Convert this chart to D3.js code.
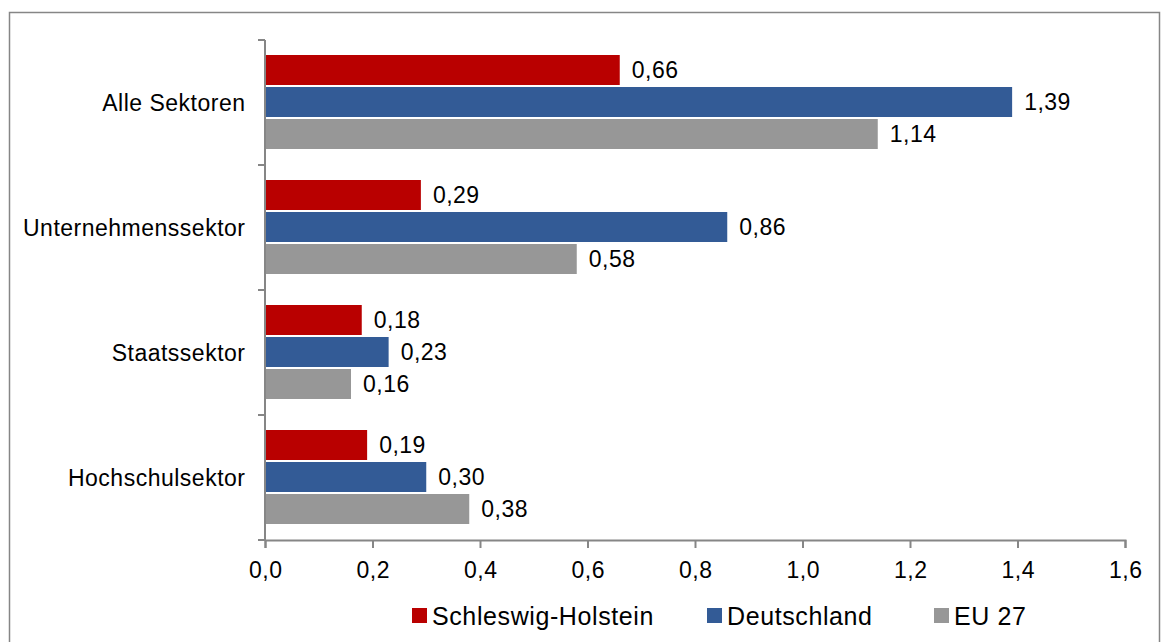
<!DOCTYPE html>
<html>
<head>
<meta charset="utf-8">
<script src="https://cdn.jsdelivr.net/npm/d3@7"></script>
<style>
  html, body { margin: 0; padding: 0; background: #fff; }
  svg { display: block; }
  text { font-family: "Liberation Sans", Arial, sans-serif; fill: #000; }
</style>
</head>
<body>
<svg id="chart" width="1165" height="642"></svg>
<script>
const categories = ["Alle Sektoren", "Unternehmenssektor", "Staatssektor", "Hochschulsektor"];
const seriesNames = ["Schleswig-Holstein", "Deutschland", "EU 27"];
const seriesColors = ["#B90000", "#335B96", "#979797"];
const schleswigHolstein = [0.66, 0.29, 0.18, 0.19];
const deutschland = [1.39, 0.86, 0.23, 0.30];
const eu27 = [1.14, 0.58, 0.16, 0.38];
const xTicks = [0, 0.2, 0.4, 0.6, 0.8, 1.0, 1.2, 1.4, 1.6];

const seriesValues = [schleswigHolstein, deutschland, eu27];
const fmt = v => d3.format(".2f")(v).replace(".", ",");
const fmtTick = v => d3.format(".1f")(v).replace(".", ",");

const svg = d3.select("#chart");
const axisColor = "#868686";
const fontSize = 23;
const ls = "0.5px";

// outer border
svg.append("rect")
  .attr("x", 9.5).attr("y", 12.5)
  .attr("width", 1150).attr("height", 640)
  .attr("fill", "none").attr("stroke", axisColor).attr("stroke-width", 1.5);

const x = d3.scaleLinear().domain([0, 1.6]).range([265, 1125]);
const y = d3.scaleBand().domain(categories).range([40, 540]).paddingInner(0).paddingOuter(0);
const inner = d3.scaleBand().domain(seriesNames).range([14, 110]);

// bars
seriesNames.forEach((name, si) => {
  const g = svg.append("g");
  g.selectAll("rect")
    .data(categories.map((c, i) => ({ c, v: seriesValues[si][i] })))
    .join("rect")
    .attr("x", x(0))
    .attr("y", d => y(d.c) + inner(name) + 1)
    .attr("width", d => x(d.v) - x(0))
    .attr("height", inner.bandwidth() - 2)
    .attr("fill", seriesColors[si]);
  g.selectAll("text")
    .data(categories.map((c, i) => ({ c, v: seriesValues[si][i] })))
    .join("text")
    .attr("x", d => x(d.v) + 12)
    .attr("y", d => y(d.c) + inner(name) + inner.bandwidth() / 2)
    .attr("dy", "0.36em")
    .attr("font-size", fontSize)
    .attr("letter-spacing", ls)
    .text(d => fmt(d.v));
});

// y axis
const yAxis = svg.append("g").attr("transform", `translate(${x(0)},0)`);
yAxis.append("line")
  .attr("x1", 0).attr("x2", 0).attr("y1", 40).attr("y2", 541)
  .attr("stroke", axisColor).attr("stroke-width", 2);
const yBounds = categories.map(c => y(c)).concat([540]);
yAxis.selectAll("line.tick")
  .data(yBounds)
  .join("line").attr("class", "tick")
  .attr("x1", -7).attr("x2", 0)
  .attr("y1", d => d).attr("y2", d => d)
  .attr("stroke", axisColor).attr("stroke-width", 2);
yAxis.selectAll("text")
  .data(categories)
  .join("text")
  .attr("x", -19.5)
  .attr("y", d => y(d) + y.bandwidth() / 2)
  .attr("dy", "0.36em")
  .attr("text-anchor", "end")
  .attr("font-size", fontSize)
  .attr("letter-spacing", ls)
  .text(d => d);

// x axis
const xAxis = d3.axisBottom(x).tickValues(xTicks).tickFormat(fmtTick).tickSize(8).tickPadding(14);
const xg = svg.append("g").attr("transform", "translate(0,540)").call(xAxis);
xg.select(".domain").attr("stroke", axisColor).attr("stroke-width", 2);
xg.selectAll(".tick line").attr("stroke", axisColor).attr("stroke-width", 2);
xg.selectAll(".tick text").attr("font-size", fontSize).attr("fill", "#000")
  .attr("letter-spacing", ls)
  .attr("dx", "0.25px")
  .attr("font-family", "Liberation Sans, Arial, sans-serif");

// legend
const legendX = [412, 707, 934];
const lg = svg.append("g");
seriesNames.forEach((name, i) => {
  lg.append("rect")
    .attr("x", legendX[i]).attr("y", 608)
    .attr("width", 15).attr("height", 15)
    .attr("fill", seriesColors[i]);
  lg.append("text")
    .attr("x", legendX[i] + 20).attr("y", 616)
    .attr("dy", "0.36em")
    .attr("font-size", 25)
    .attr("letter-spacing", "0.6px")
    .text(name);
});
</script>
</body>
</html>
